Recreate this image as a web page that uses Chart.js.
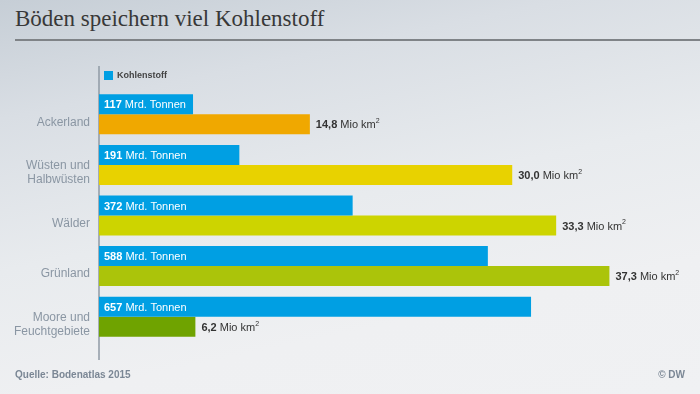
<!DOCTYPE html>
<html lang="de">
<head>
<meta charset="utf-8">
<title>Böden speichern viel Kohlenstoff</title>
<script src="https://cdn.jsdelivr.net/npm/chart.js@4/dist/chart.umd.min.js"></script>
<style>
    html, body {
        margin: 0;
        padding: 0;
    }
    body {
        width: 700px;
        height: 394px;
        position: relative;
        overflow: hidden;
        background: linear-gradient(168deg, #c6ced6 0%, #d9dee4 22%, #e8ebee 50%, #eff0f2 75%, #f0f1f3 100%);
        font-family: "Liberation Sans", Arial, sans-serif;
    }
    .title {
        position: absolute;
        left: 15px;
        top: 6px;
        font-family: "Liberation Serif", "Times New Roman", serif;
        font-size: 23px;
        color: #383838;
        white-space: nowrap;
    }
    .title-rule {
        position: absolute;
        left: 15px;
        right: 0;
        top: 39px;
        height: 2px;
        background: #7f8387;
    }
    #chart {
        position: absolute;
        left: 0;
        top: 0;
    }
    .source, .credit {
        position: absolute;
        top: 369px;
        font-size: 10px;
        font-weight: bold;
        color: #7b8795;
    }
    .source { left: 15px; }
    .credit { right: 15px; }
</style>
</head>
<body>
<div class="title">Böden speichern viel Kohlenstoff</div>
<div class="title-rule"></div>
<canvas id="chart" width="700" height="394"></canvas>
<div class="source">Quelle: Bodenatlas 2015</div>
<div class="credit">© DW</div>

<script>
// --- Data ---
const categories = ['Ackerland', ['Wüsten und', 'Halbwüsten'], 'Wälder', 'Grünland', ['Moore und', 'Feuchtgebiete']];
const carbonValues = [117, 191, 372, 588, 657];          // Mrd. Tonnen
const areaValues = [14.8, 30.0, 33.3, 37.3, 6.2];        // Mio km²
const carbonLabel = 'Kohlenstoff';

// --- Colours ---
const carbonColor = '#009fe3';
const areaColors = ['#f0a800', '#e8d200', '#cdd400', '#abc40a', '#6fa300'];

// scale ranges (the bars in the original start a little right of the axis line)
const carbonAxis = { min: -33.2, max: 863 };
const areaAxis = { min: -1.04, max: 41.1 };

const FONT = '"Liberation Sans", Arial, sans-serif';

function fmtDe(v) {
    return v.toFixed(1).replace('.', ',');
}

// --- Axis line + legend ---
const decorPlugin = {
    id: 'decor',
    beforeDatasetsDraw(chart) {
        const ctx = chart.ctx;
        const left = chart.chartArea.left;
        ctx.save();
        ctx.strokeStyle = '#8f9aa5';
        ctx.lineWidth = 1.5;
        ctx.beginPath();
        ctx.moveTo(left, 66);
        ctx.lineTo(left, 360);
        ctx.stroke();

        ctx.fillStyle = carbonColor;
        ctx.fillRect(left + 5, 71, 9, 9);
        ctx.fillStyle = '#444';
        ctx.font = 'bold 9px ' + FONT;
        ctx.textBaseline = 'middle';
        ctx.fillText(carbonLabel, left + 18, 76);
        ctx.restore();
    }
};

// --- Value labels ---
const labelPlugin = {
    id: 'barLabels',
    afterDatasetsDraw(chart) {
        const ctx = chart.ctx;
        ctx.save();
        ctx.textBaseline = 'middle';

        chart.getDatasetMeta(0).data.forEach((bar, i) => {
            let x = bar.base + 5;
            const y = bar.y + 1;
            const num = String(carbonValues[i]);
            ctx.fillStyle = '#fff';
            ctx.font = 'bold 11px ' + FONT;
            ctx.fillText(num, x, y);
            x += ctx.measureText(num).width;
            ctx.font = '11px ' + FONT;
            ctx.fillText(' Mrd. Tonnen', x, y);
        });

        chart.getDatasetMeta(1).data.forEach((bar, i) => {
            let x = bar.x + 6;
            const y = bar.y + 1;
            const num = fmtDe(areaValues[i]);
            ctx.fillStyle = '#333';
            ctx.font = 'bold 11px ' + FONT;
            ctx.fillText(num, x, y);
            x += ctx.measureText(num).width;
            ctx.font = '11px ' + FONT;
            ctx.fillText(' Mio km', x, y);
            x += ctx.measureText(' Mio km').width;
            ctx.font = '7px ' + FONT;
            ctx.fillText('2', x, y - 4);
        });
        ctx.restore();
    }
};

new Chart(document.getElementById('chart'), {
    type: 'bar',
    data: {
        labels: categories,
        datasets: [
            {
                label: carbonLabel,
                data: carbonValues,
                backgroundColor: carbonColor,
                xAxisID: 'x',
                base: carbonAxis.min
            },
            {
                label: 'Fläche',
                data: areaValues,
                backgroundColor: areaColors,
                xAxisID: 'x2',
                base: areaAxis.min
            }
        ]
    },
    options: {
        indexAxis: 'y',
        responsive: false,
        animation: false,
        layout: {
            padding: { top: 89, bottom: 52, left: 0, right: 40 }
        },
        datasets: {
            bar: {
                categoryPercentage: 0.79,
                barPercentage: 1.0,
                borderWidth: 0
            }
        },
        plugins: {
            legend: { display: false },
            tooltip: { enabled: false }
        },
        scales: {
            x: {
                display: false,
                min: carbonAxis.min,
                max: carbonAxis.max
            },
            x2: {
                display: false,
                min: areaAxis.min,
                max: areaAxis.max
            },
            y: {
                grid: { display: false, drawTicks: false },
                border: { display: false },
                ticks: {
                    color: '#8a96a3',
                    padding: 9,
                    labelOffset: 8,
                    font: { family: FONT, size: 12, lineHeight: 1.2 }
                },
                afterFit(scale) {
                    scale.width = 99;
                }
            }
        }
    },
    plugins: [decorPlugin, labelPlugin]
});
</script>
</body>
</html>
